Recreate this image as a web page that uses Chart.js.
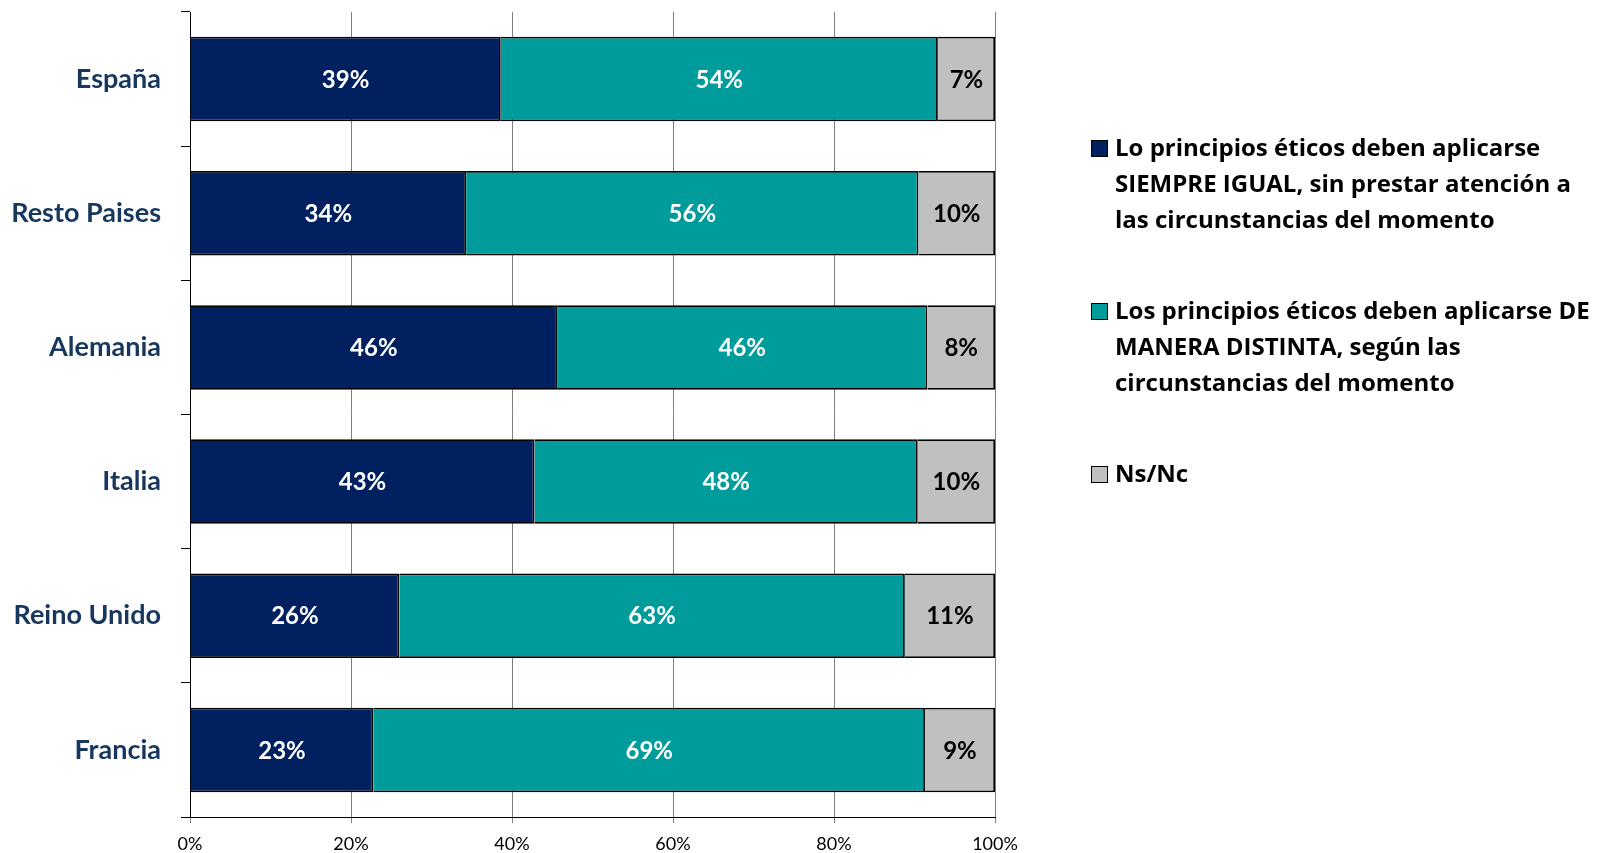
<!DOCTYPE html>
<html lang="es">
<head>
<meta charset="utf-8">
<title>Principios éticos</title>
<script src="https://cdn.jsdelivr.net/npm/chart.js@4.4.1/dist/chart.umd.min.js"></script>
<style>
  html, body { margin: 0; padding: 0; background: #fff; }
  #wrap { width: 1600px; height: 853px; }
</style>
</head>
<body>
<div id="wrap"><canvas id="chart" width="1600" height="853"></canvas></div>
<script>
const countries = ['España', 'Resto Paises', 'Alemania', 'Italia', 'Reino Unido', 'Francia'];
const siempreIgual = [38.6, 34.3, 45.6, 42.8, 26.0, 22.8];
const maneraDistinta = [54.3, 56.2, 46.0, 47.6, 62.8, 68.5];
const nsNc = [7.1, 9.5, 8.4, 9.6, 11.2, 8.7];
const xTicks = [0, 20, 40, 60, 80, 100];
const seriesNames = [
  ['Lo principios éticos deben aplicarse', 'SIEMPRE IGUAL, sin prestar atención a', 'las circunstancias del momento'],
  ['Los principios éticos deben aplicarse DE', 'MANERA DISTINTA, según las', 'circunstancias del momento'],
  ['Ns/Nc']
];

Chart.defaults.font.family = 'Lato';

// percentages written in the middle of each segment
const barLabels = {
  id: 'barLabels',
  afterDatasetsDraw(chart) {
    const ctx = chart.ctx;
    ctx.save();
    ctx.font = 'bold 24px Lato';
    ctx.textAlign = 'center';
    ctx.textBaseline = 'middle';
    chart.data.datasets.forEach((ds, i) => {
      chart.getDatasetMeta(i).data.forEach((bar, j) => {
        ctx.fillStyle = ds.labelColor;
        ctx.fillText(Math.round(ds.data[j]) + '%', (bar.x + bar.base) / 2, bar.y + 1);
      });
    });
    ctx.restore();
  }
};

// legend on the right, with the long labels broken in lines
const sideLegend = {
  id: 'sideLegend',
  afterDraw(chart) {
    const ctx = chart.ctx;
    const x0 = chart.chartArea.right + 96;
    let base = chart.chartArea.top + 144;
    ctx.save();
    ctx.font = 'bold 24px "Open Sans"';
    ctx.textAlign = 'left';
    ctx.textBaseline = 'alphabetic';
    chart.data.datasets.forEach((ds, i) => {
      ctx.fillStyle = ds.backgroundColor;
      ctx.fillRect(x0, base - 16, 17, 17);
      ctx.strokeStyle = '#000';
      ctx.lineWidth = 1;
      ctx.strokeRect(x0 + 0.5, base - 15.5, 16, 16);
      ctx.fillStyle = '#000';
      seriesNames[i].forEach((line, k) => ctx.fillText(line, x0 + 24, base + k * 35.8));
      base += 163;
    });
    ctx.restore();
  }
};

new Chart(document.getElementById('chart'), {
  type: 'bar',
  data: {
    labels: countries,
    datasets: [
      { label: seriesNames[0].join(' '), data: siempreIgual, backgroundColor: '#002060', labelColor: '#fff' },
      { label: seriesNames[1].join(' '), data: maneraDistinta, backgroundColor: '#009B9B', labelColor: '#fff' },
      { label: seriesNames[2].join(' '), data: nsNc, backgroundColor: '#C0C0C0', labelColor: '#000' }
    ]
  },
  options: {
    indexAxis: 'y',
    responsive: false,
    animation: false,
    datasets: {
      bar: {
        borderColor: '#000',
        borderWidth: 1.8,
        categoryPercentage: 1,
        barPercentage: 0.63
      }
    },
    layout: { padding: { top: 12, right: 605, left: 0, bottom: 0 } },
    plugins: {
      legend: { display: false },
      tooltip: { enabled: false }
    },
    scales: {
      x: {
        stacked: true,
        min: xTicks[0],
        max: xTicks[xTicks.length - 1],
        afterFit(scale) { scale.height = 36; },
        ticks: {
          stepSize: xTicks[1] - xTicks[0],
          color: '#000',
          font: { size: 18 },
          padding: 10,
          callback: v => v + '%'
        },
        grid: { color: '#7f7f7f', tickColor: '#7f7f7f', tickLength: 6, lineWidth: 1 },
        border: { color: '#000', width: 1 }
      },
      y: {
        stacked: true,
        afterFit(scale) {
          scale.width = 190;
          scale.paddingTop = 0;
          scale.paddingBottom = 0;
        },
        ticks: {
          color: '#17375E',
          font: { size: 27, weight: 'bold' },
          padding: 20
        },
        grid: { drawOnChartArea: false, tickColor: '#000', tickLength: 9, offset: true },
        border: { color: '#000', width: 1 }
      }
    }
  },
  plugins: [barLabels, sideLegend]
});
</script>
</body>
</html>
